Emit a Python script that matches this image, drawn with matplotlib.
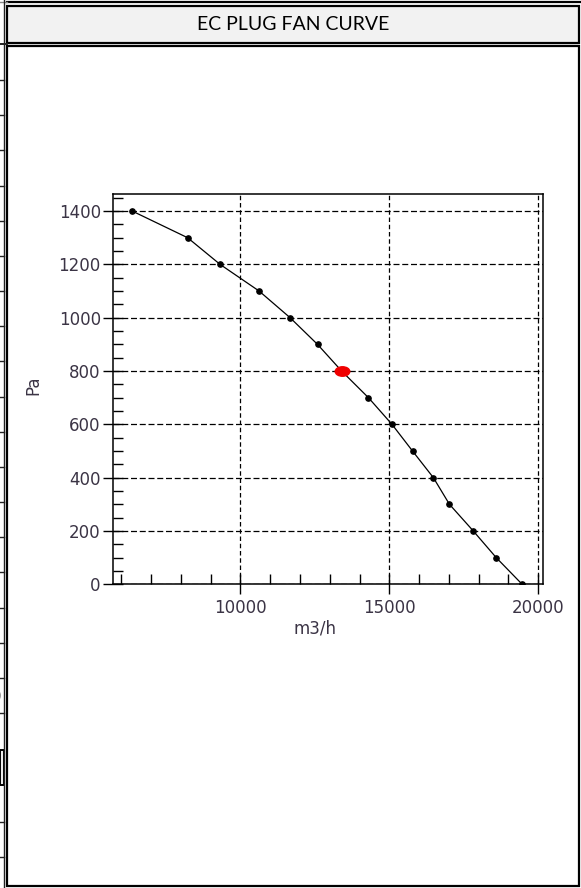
import matplotlib
matplotlib.use("Agg")
import matplotlib.pyplot as plt
from matplotlib.patches import Rectangle
from matplotlib.path import Path
from matplotlib.transforms import Affine2D
from matplotlib.ticker import MultipleLocator

# fan curve (m3/h vs Pa)
flow = [6370, 8230, 9320, 10630, 11670, 12590, 13400, 14300, 15090,
        15780, 16480, 17020, 17820, 18590, 19460]
pressure = [1400, 1300, 1200, 1100, 1000, 900, 800, 700, 600,
            500, 400, 300, 200, 100, 0]

# duty point
duty_flow = [13400]
duty_pressure = [800]

x_ticks = [10000, 15000, 20000]
y_ticks = [0, 200, 400, 600, 800, 1000, 1200, 1400]

title = "EC PLUG FAN CURVE"
x_label = "m3/h"
y_label = "Pa"

W, H = 581, 888
fig = plt.figure(figsize=(W / 100, H / 100), dpi=100)

# page / table background drawn in pixel coordinates
bg = fig.add_axes([0, 0, 1, 1])
bg.set_xlim(0, W)
bg.set_ylim(H, 0)
bg.axis("off")
bg.set_zorder(0)

# outer table rule along the top
bg.plot([7, W], [2.5, 2.5], color="black", lw=1.6)
bg.plot([0, 7], [2.5, 2.5], color="#888888", lw=1.0)

# left cut-off column of another table
bg.plot([3.8, 3.8], [0, H], color="#222222", lw=1.0)
stubs = [80 + 35.17 * k for k in range(19)] + [822, 857]
for y in stubs:
    bg.plot([0, 3.8], [y, y], color="#222222", lw=1.0)
bg.plot([0, 7], [44.5, 44.5], color="#222222", lw=1.4)
bg.add_patch(Rectangle((0, 750), 3.8, 35, facecolor="#ececec",
                       edgecolor="black", lw=1.4))
bg.text(-4, 697, "0", fontsize=12, ha="center", va="center", color="#222222")

# title cell
bg.add_patch(Rectangle((7, 6), W - 9, 37, facecolor="#f2f2f2",
                       edgecolor="black", lw=1.6))
bg.text((7 + W - 2) / 2, 24.5, title, family=["Lato", "DejaVu Sans"],
        fontsize=14, ha="center", va="center", color="black")

# chart cell
bg.add_patch(Rectangle((7, 46.5), W - 9, 839.5, facecolor="white",
                       edgecolor="black", lw=1.6))

# the fan chart itself
left, right, top, bottom = 113.3, 543.3, 194.0, 584.3
ax = fig.add_axes([left / W, (H - bottom) / H, (right - left) / W, (bottom - top) / H])
ax.set_zorder(2)

ax.plot(flow, pressure, color="black", lw=0.9, marker="o", markersize=3.8,
        markerfacecolor="black", markeredgecolor="black", zorder=3)

ellipse = Path.unit_circle().transformed(Affine2D().scale(1.0, 0.65))
ax.plot(duty_flow, duty_pressure, linestyle="none", marker=ellipse,
        markersize=10.5, color="#f00000", zorder=4)

ax.set_xlim(5735, 20170)
ax.set_ylim(0, 1464)
ax.set_xticks(x_ticks)
ax.set_yticks(y_ticks)
ax.xaxis.set_minor_locator(MultipleLocator(1000))
ax.yaxis.set_minor_locator(MultipleLocator(50))

label_color = "#3b3445"
ax.tick_params(which="major", direction="inout", length=15, width=1.0,
               color="black", labelsize=12, labelcolor=label_color, pad=1.5)
ax.tick_params(axis="x", which="major", pad=3)
ax.tick_params(which="minor", direction="in", length=7, width=1.0, color="black")

ax.xaxis.grid(True, which="major", color="black", lw=0.9, linestyle=(0, (3.6, 2.2)))
ax.yaxis.grid(True, which="major", color="black", lw=0.9, linestyle=(0, (4.8, 2.2)))
ax.set_axisbelow(True)

for s in ax.spines.values():
    s.set_linewidth(1.1)

ax.set_xlabel(x_label, fontsize=12, color=label_color)
ax.xaxis.set_label_coords(0.469, -0.089)
ax.set_ylabel(y_label, fontsize=12, color=label_color)
ax.yaxis.set_label_coords(-0.166, 0.511)

fig.savefig("out.png", dpi=100)
